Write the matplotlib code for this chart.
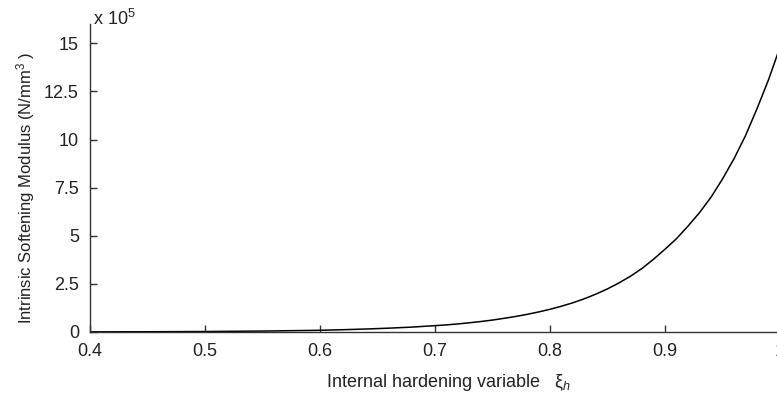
import numpy as np
import matplotlib.pyplot as plt

plt.rcParams['font.family'] = ['Liberation Sans', 'DejaVu Sans']
plt.rcParams['mathtext.fontset'] = 'custom'
plt.rcParams['mathtext.rm'] = 'Liberation Sans'
plt.rcParams['mathtext.it'] = 'Liberation Sans:italic'

# values (x = internal hardening variable, y in 1e5 N/mm^3)
xi_h = [0.4, 0.45, 0.5, 0.55, 0.6, 0.62, 0.64, 0.66, 0.68, 0.7,
        0.71, 0.72, 0.73, 0.74, 0.75, 0.76, 0.77, 0.78, 0.79, 0.8,
        0.81, 0.82, 0.83, 0.84, 0.85, 0.86, 0.87, 0.88, 0.89, 0.9,
        0.91, 0.92, 0.93, 0.94, 0.95, 0.96, 0.97, 0.98, 0.99, 1.0]
modulus = [0.007, 0.013, 0.025, 0.048, 0.09, 0.12, 0.155, 0.2, 0.255, 0.33,
           0.37, 0.42, 0.48, 0.545, 0.62, 0.71, 0.805, 0.915, 1.04, 1.18,
           1.34, 1.52, 1.73, 1.97, 2.24, 2.55, 2.9, 3.3, 3.78, 4.3,
           4.85, 5.5, 6.2, 7.0, 7.95, 9.0, 10.2, 11.6, 13.1, 14.8]

x_ticks = [0.4, 0.5, 0.6, 0.7, 0.8, 0.9, 1.0]
x_labels = ['0.4', '0.5', '0.6', '0.7', '0.8', '0.9', '1']
y_ticks = [0, 2.5, 5, 7.5, 10, 12.5, 15]
y_labels = ['0', '2.5', '5', '7.5', '10', '12.5', '15']

fig = plt.figure(figsize=(7.77, 3.97), dpi=100)
ax = fig.add_axes([90 / 777, 1 - 332 / 397, 690 / 777, 308 / 397])

ax.plot(xi_h, modulus, color='black', linewidth=1.1)

ax.set_xlim(0.4, 1.0)
ax.set_ylim(0, 16)
ax.set_xticks(x_ticks)
ax.set_xticklabels(x_labels)
ax.set_yticks(y_ticks)
ax.set_yticklabels(y_labels)

for side in ['top', 'right']:
    ax.spines[side].set_visible(False)
for side in ['left', 'bottom']:
    ax.spines[side].set_color('#333333')
    ax.spines[side].set_linewidth(1.0)
ax.tick_params(direction='in', length=5, width=1.0, colors='#333333',
               labelsize=13, labelcolor='#222222', pad=8)

ax.text(0.005, 0.998, r'x 10$^{5}$', transform=ax.transAxes, fontsize=13,
        color='#222222', ha='left', va='baseline')

ax.set_xlabel('Internal hardening variable   ξ$_{h}$', fontsize=13,
              color='#222222')
ax.xaxis.set_label_coords(0.519, -0.13)
ax.set_ylabel(r'Intrinsic Softening Modulus (N/mm$^{3}$ )', fontsize=12,
              color='#222222')
ax.yaxis.set_label_coords(-0.077, 0.468)

fig.savefig('out.png', dpi=100)
